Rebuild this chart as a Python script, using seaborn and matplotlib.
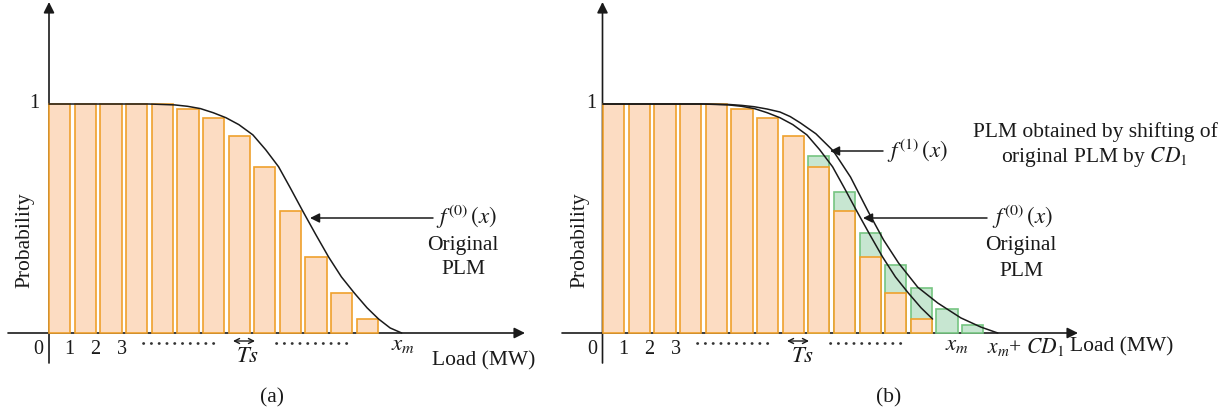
import matplotlib
matplotlib.use("Agg")
import matplotlib.pyplot as plt
from matplotlib.lines import Line2D
from matplotlib.transforms import IdentityTransform
import seaborn as sns
import pandas as pd

# ---------------- data ----------------
bar_index = list(range(1, 14))
orig_prob = [1.0, 1.0, 1.0, 1.0, 1.0, 0.980, 0.939, 0.862, 0.726, 0.531, 0.332, 0.175, 0.061]
shift_index = list(range(9, 16))
shift_prob = [0.771, 0.617, 0.437, 0.295, 0.195, 0.105, 0.036]

f0_x = [0, 3.9, 4.9, 5.4, 5.9, 6.4, 6.9, 7.4, 7.95, 8.45, 8.95, 9.4, 9.9, 10.4,
        10.9, 11.4, 11.9, 12.4, 12.85, 13.3, 13.75]
f0_y = [1, 1, 0.996, 0.99, 0.98, 0.962, 0.94, 0.91, 0.865, 0.80, 0.726, 0.635,
        0.531, 0.43, 0.332, 0.245, 0.175, 0.11, 0.061, 0.022, 0]
f1_x = [0, 3.9, 4.9, 5.4, 5.9, 6.4, 6.9, 7.3, 7.7, 8.3, 8.98, 9.65, 10.35,
        10.94, 11.52, 12.27, 13.05, 13.95, 14.73, 15.39]
f1_y = [1, 1, 0.998, 0.994, 0.988, 0.978, 0.965, 0.945, 0.917, 0.87, 0.795,
        0.681, 0.528, 0.406, 0.306, 0.20, 0.131, 0.066, 0.026, 0]

tick_labels = ["1", "2", "3"]

# ---------------- style ----------------
W, H = 1231, 415
UX, UY, BASE = 25.65, 229.0, 333.0
BAR_W = 0.83
OR_FILL, OR_EDGE = "#FCDCC2", "#EFA12C"
GR_FILL, GR_EDGE = "#C7E6D1", "#76C581"
INK = "#1a1a1a"
FS = 15.5     # words
FD = 14.5     # digits
FM = 16.5     # math labels

sns.set_style("white")
plt.rcParams["font.family"] = ["Liberation Serif", "DejaVu Serif"]
plt.rcParams["mathtext.fontset"] = "stix"

fig = plt.figure(figsize=(W / 100, H / 100), dpi=100)


def make_axes(px0, px1, origin):
    ax = fig.add_axes([px0 / W, 0, (px1 - px0) / W, 1])
    ax.set_axis_off()
    return ax, ((px0 - origin) / UX, (px1 - origin) / UX)


def T(px, py, s, **kw):
    kw.setdefault("fontsize", FS)
    kw.setdefault("ha", "center")
    kw.setdefault("va", "center")
    fig.text(px / W, 1 - py / H, s, color=INK, **kw)


def arrow(ax, p0, p1, style="-|>", lw=1.1, ms=14, z=3):
    ax.annotate("", xy=(p1[0], H - p1[1]), xytext=(p0[0], H - p0[1]),
                xycoords="figure pixels", textcoords="figure pixels",
                arrowprops=dict(arrowstyle=style, color=INK, lw=lw,
                                mutation_scale=ms, shrinkA=0, shrinkB=0),
                zorder=z)


def dots(x0, x1, y):
    fig.add_artist(Line2D([x0, x1], [H - y, H - y], transform=IdentityTransform(),
                          ls=(0, (0.1, 2.7)), lw=2, color="#333333",
                          dash_capstyle="round"))


def bars(ax, idx, vals, fill, edge):
    df = pd.DataFrame({"pos": [i - 1 + BAR_W / 2 for i in idx], "p": vals})
    sns.barplot(data=df, x="pos", y="p", native_scale=True, width=BAR_W,
                color=fill, edgecolor=edge, linewidth=1.2, saturation=1,
                errorbar=None, ax=ax)


def finish(ax, xl):
    ax.set_xlim(*xl)
    ax.set_ylim((BASE - H) / UY, BASE / UY)
    ax.set_axis_off()


# ---------------- panel (a) ----------------
axa, xla = make_axes(0, 560, 49)
bars(axa, bar_index, orig_prob, OR_FILL, OR_EDGE)
sns.lineplot(x=f0_x, y=f0_y, sort=False, estimator=None, color=INK, lw=1.1, ax=axa)
finish(axa, xla)
arrow(axa, (8, 333), (525, 333), lw=1.2, ms=16, z=0.5)
arrow(axa, (49, 363), (49, 2), lw=1.2, ms=16, z=0.5)
arrow(axa, (433, 218), (310, 218))
arrow(axa, (233, 341), (255, 341), style="<->", lw=1.0, ms=9)
dots(143, 217, 343)
dots(276, 352, 343)
T(34, 103, "1", fontsize=FD)
T(38, 349, "0", fontsize=FD)
for lab, px in zip(tick_labels, [69, 95, 121.7]):
    T(px, 349, lab, fontsize=FD)
T(403, 344, r"$x_m$", fontsize=FM)
T(248, 356, r"$Ts$", fontsize=FM)
T(484, 361, "Load (MW)")
T(25, 240, "Probability", rotation=90)
T(466, 217, r"$f^{(0)}\,(x)$", fontsize=FM)
T(463, 245, "Original")
T(463, 270, "PLM")
T(272, 398, "(a)")

# ---------------- panel (b) ----------------
axb, xlb = make_axes(560, 1231, 603)
bars(axb, shift_index, shift_prob, GR_FILL, GR_EDGE)
bars(axb, bar_index, orig_prob, OR_FILL, OR_EDGE)
sns.lineplot(x=f0_x[:-2], y=f0_y[:-2], sort=False, estimator=None, color=INK, lw=1.1, ax=axb)
sns.lineplot(x=f1_x, y=f1_y, sort=False, estimator=None, color=INK, lw=1.1, ax=axb)
finish(axb, xlb)
arrow(axb, (562, 333), (1078, 333), lw=1.2, ms=16, z=0.5)
arrow(axb, (602.5, 363), (602.5, 2), lw=1.2, ms=16, z=0.5)
arrow(axb, (883, 151), (830, 151))
arrow(axb, (987, 218), (863, 218))
arrow(axb, (787, 341), (809, 341), style="<->", lw=1.0, ms=9)
dots(697, 772, 343)
dots(830, 907, 343)
T(591.7, 103, "1", fontsize=FD)
T(592.5, 349, "0", fontsize=FD)
for lab, px in zip(tick_labels, [623.3, 649.3, 676.3]):
    T(px, 349, lab, fontsize=FD)
T(957.5, 344, r"$x_m$", fontsize=FM)
T(1064, 347, r"$x_m$+ $CD_1$", fontsize=15.5, ha="right")
T(1070, 347, "Load (MW)", ha="left")
T(803, 356, r"$Ts$", fontsize=FM)
T(580, 240, "Probability", rotation=90)
T(917, 151, r"$f^{(1)}\,(x)$", fontsize=FM)
T(1022, 217, r"$f^{(0)}\,(x)$", fontsize=FM)
T(1021, 245, "Original")
T(1021, 271, "PLM")
T(1095, 132, "PLM obtained by shifting of")
T(1094, 157, r"original PLM by $CD_1$")
T(889, 398, "(b)")

fig.savefig("out.png", dpi=100)
